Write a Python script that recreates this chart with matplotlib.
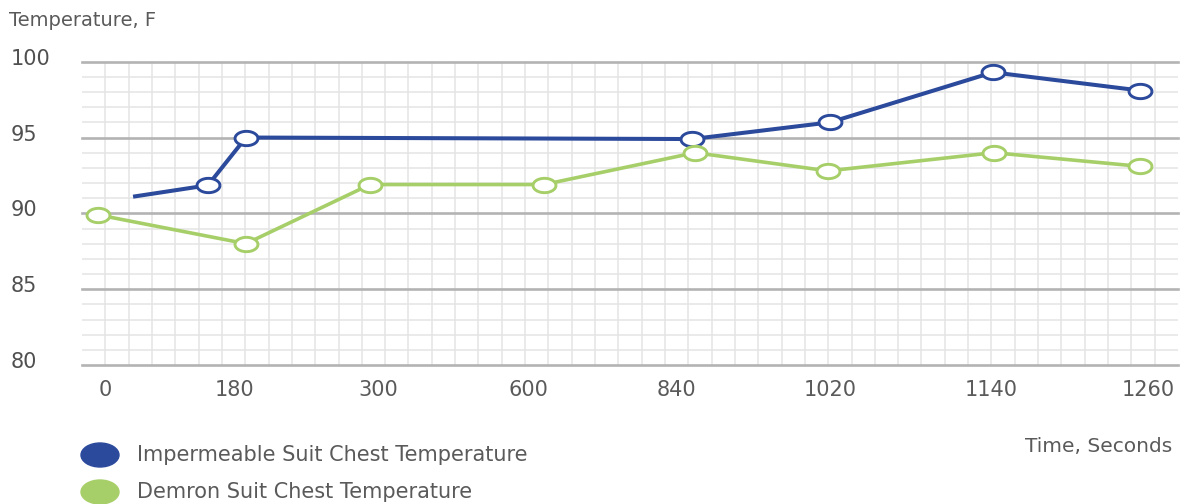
import numpy as np
import matplotlib
matplotlib.use("Agg")
import matplotlib.pyplot as plt
from matplotlib.patches import Ellipse
from matplotlib.transforms import ScaledTranslation

plt.rcParams['font.family'] = ['DejaVu Sans']

# ---- data ----
tick_labels = ["0", "180", "300", "600", "840", "1020", "1140", "1260"]
tick_pos = [0.99, 6.52, 12.69, 19.13, 25.51, 32.08, 38.98, 45.71]

imp_x = [2.19, 5.40, 7.03, 26.16, 32.08, 39.06, 45.37]
imp_y = [91.1, 91.85, 95.0, 94.9, 96.0, 99.3, 98.1]

dem_x = [0.69, 7.03, 12.35, 19.81, 26.29, 31.99, 39.1, 45.37]
dem_y = [89.9, 88.0, 91.9, 91.9, 94.0, 92.8, 94.0, 93.1]

series_names = ["Impermeable Suit Chest Temperature", "Demron Suit Chest Temperature"]
blue = "#2c4a9c"
green = "#a7cf69"
text_col = "#5a5a5a"

W, H = 1185, 504
fig = plt.figure(figsize=(W / 100, H / 100), dpi=100)
ax = fig.add_axes([82 / W, 1 - 365 / H, (1178 - 82) / W, (365 - 61.7) / H])
ax.set_xlim(0, 47)
ax.set_ylim(80, 100)
for s in ax.spines.values():
    s.set_visible(False)

# grid
for xv in np.arange(1, 47):
    ax.axvline(xv, color="#e4e4e4", lw=1.1, zorder=0)
for yv in np.arange(80, 101):
    if yv % 5 == 0:
        ax.axhline(yv, color="#b3b3b3", lw=1.9, zorder=1, clip_on=False)
    else:
        ax.axhline(yv, color="#e4e4e4", lw=1.1, zorder=0)

# ellipse marker
t = np.linspace(0, 2 * np.pi, 80)
ell = list(zip(1.6 * np.cos(t), np.sin(t)))

ax.plot(imp_x, imp_y, color=blue, lw=2.9, marker=ell, markersize=16.5,
        markerfacecolor="white", markeredgecolor=blue, markeredgewidth=2.1,
        markevery=list(range(1, len(imp_x))), zorder=3, clip_on=False,
        solid_capstyle="butt")
ax.plot(dem_x, dem_y, color=green, lw=2.6, marker=ell, markersize=16.5,
        markerfacecolor="white", markeredgecolor=green, markeredgewidth=2.1,
        zorder=4, clip_on=False)

# ticks
ax.set_xticks(tick_pos)
ax.set_xticklabels(tick_labels, fontsize=15, color=text_col)
ax.tick_params(axis="x", length=0, pad=11)
ax.set_yticks([80, 85, 90, 95, 100])
ax.set_yticklabels(["80", "85", "90", "95", "100"], fontsize=15, color="#505050")
ax.tick_params(axis="y", length=0, pad=(82 - 11) * 0.72)
off = ScaledTranslation(0, 5 / 100, fig.dpi_scale_trans)
for lab in ax.get_yticklabels():
    lab.set_horizontalalignment("left")
    lab.set_transform(lab.get_transform() + off)

# titles
fig.text(9 / W, 1 - 21 / H, "Temperature, F", fontsize=14, color=text_col,
         ha="left", va="center")
fig.text(1172 / W, 1 - 447 / H, "Time, Seconds", fontsize=14.5, color=text_col,
         ha="right", va="center")

# legend
for i, (name, col) in enumerate(zip(series_names, [blue, green])):
    cy = [455, 492][i]
    fig.add_artist(Ellipse((100 / W, 1 - cy / H), 38 / W, 24 / H,
                           transform=fig.transFigure, color=col))
    fig.text(137 / W, 1 - cy / H, name, fontsize=15, color=text_col,
             ha="left", va="center")

fig.savefig("out.png", dpi=100)
